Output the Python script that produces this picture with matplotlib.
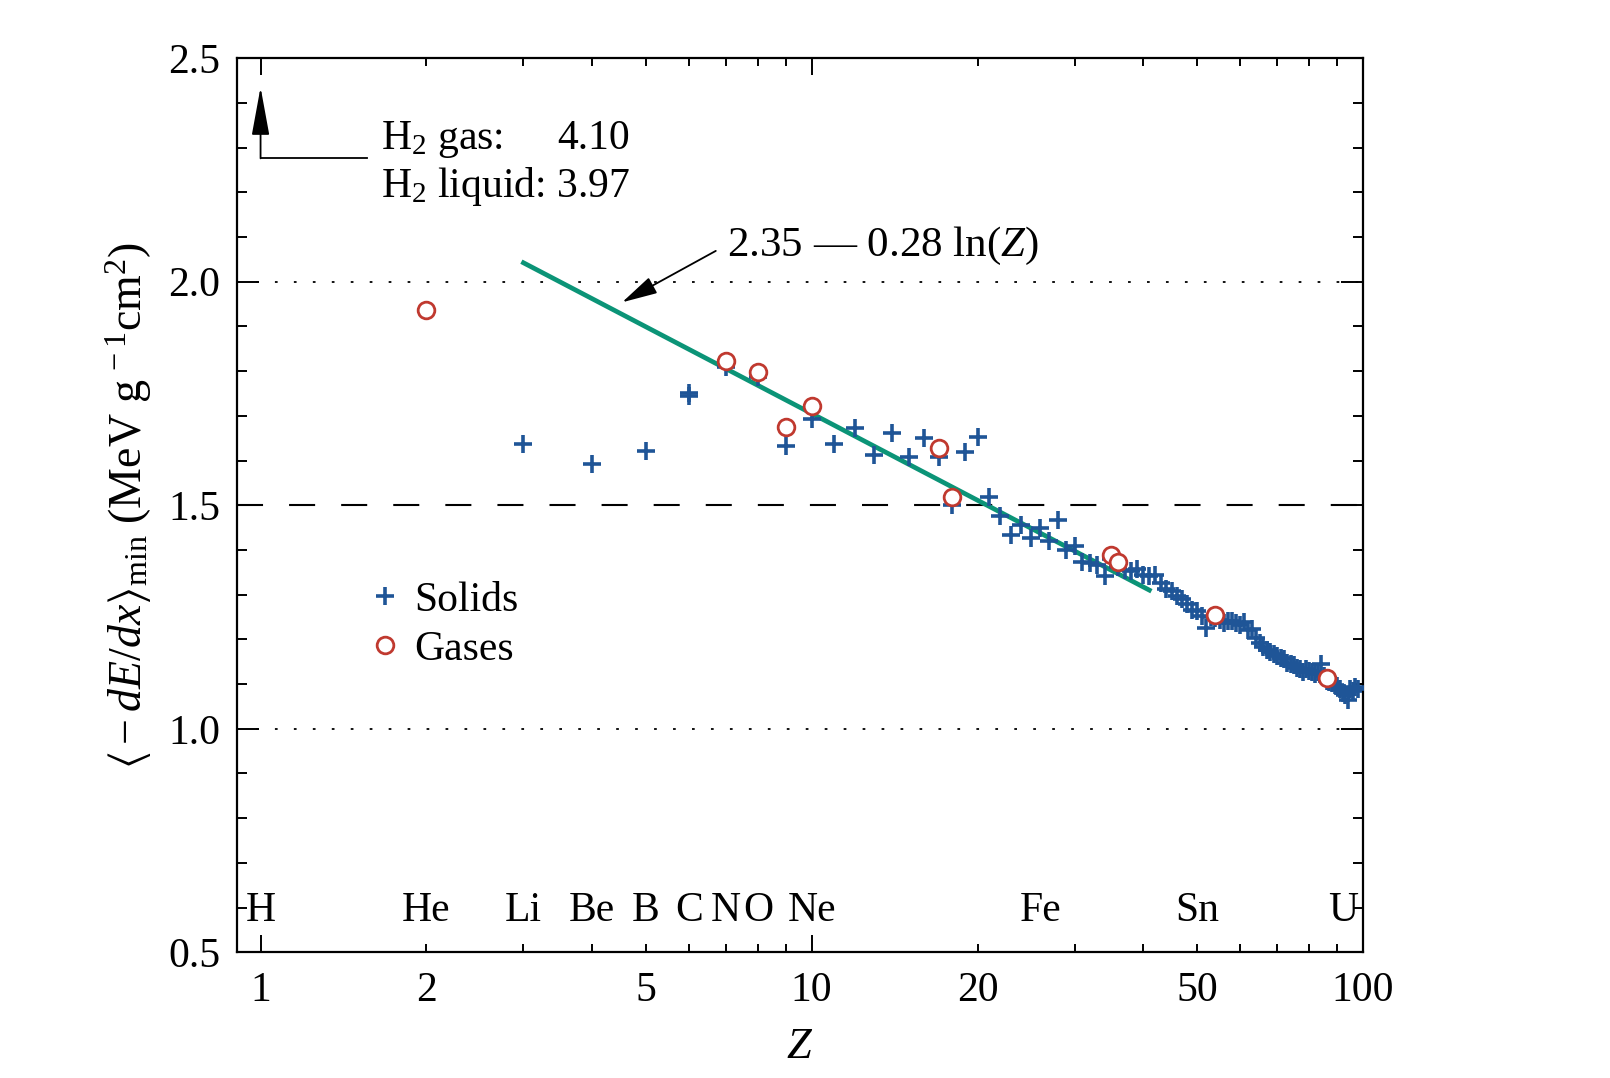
import numpy as np
import matplotlib
matplotlib.use("Agg")
import matplotlib.pyplot as plt
from matplotlib.patches import FancyArrowPatch

plt.rcParams['font.family'] = ['Liberation Serif', 'DejaVu Serif']
plt.rcParams['mathtext.fontset'] = 'custom'
plt.rcParams['mathtext.rm'] = 'Liberation Serif'
plt.rcParams['mathtext.it'] = 'Liberation Serif:italic'
plt.rcParams['mathtext.fallback'] = 'stix'

# ---------------- data ----------------
solid_Z = [3, 4, 5, 6, 6, 7, 8, 9, 10, 11, 12, 13, 14, 15, 16, 17, 18, 19, 20,
           21, 22, 23, 24, 25, 26, 27, 28, 29, 30, 31, 32, 33, 34, 35, 36, 37, 38,
           39, 40, 41, 42, 43, 44, 45, 46, 47, 48, 49, 50, 51, 52, 53, 54, 55, 56,
           57, 58, 59, 60, 61, 62, 63, 64, 65, 66, 67, 68, 69, 70, 71, 72, 73, 74,
           75, 76, 77, 78, 79, 80, 81, 82, 83, 84, 85, 86, 87, 88, 89, 90, 91, 92,
           93, 94, 95, 96, 97, 98]
solid_dEdx = [1.636, 1.592, 1.621, 1.745, 1.752, 1.809, 1.786, 1.632, 1.694, 1.638,
              1.672, 1.612, 1.662, 1.609, 1.651, 1.607, 1.501, 1.620, 1.653,
              1.519, 1.476, 1.434, 1.456, 1.426, 1.449, 1.419, 1.467, 1.400, 1.409,
              1.374, 1.370, 1.367, 1.341, 1.380, 1.362, 1.356, 1.353, 1.358, 1.345,
              1.342, 1.343, 1.325, 1.313, 1.309, 1.298, 1.290, 1.280, 1.266, 1.263,
              1.253, 1.225, 1.250, 1.247, 1.243, 1.237, 1.241, 1.240, 1.236, 1.232,
              1.238, 1.222, 1.224, 1.203, 1.192, 1.183, 1.176, 1.172, 1.168, 1.163,
              1.158, 1.155, 1.148, 1.145, 1.142, 1.137, 1.133, 1.128, 1.134, 1.130,
              1.127, 1.122, 1.128, 1.145, 1.118, 1.108, 1.105, 1.102, 1.099, 1.096,
              1.088, 1.081, 1.075, 1.065, 1.090, 1.085, 1.093, 1.089]
gas_Z = [2, 7, 8, 9, 10, 17, 18, 35, 36, 54, 86]
gas_dEdx = [1.937, 1.822, 1.798, 1.675, 1.722, 1.629, 1.518, 1.389, 1.374, 1.255, 1.114]

elem_names = ['H', 'He', 'Li', 'Be', 'B', 'C', 'N', 'O', 'Ne', 'Fe', 'Sn', 'U']
elem_Z = [1, 2, 3, 4, 5, 6, 7, 8, 10, 26, 50, 92]

fit_a, fit_b = 2.35, 0.28
fit_Zrange = [3.0, 41.0]

xmajor = [1, 10, 100]
xminor = [2, 3, 4, 5, 6, 7, 8, 9, 20, 30, 40, 50, 60, 70, 80, 90]
xminor_labelled = [2, 5, 20, 50]

# ---------------- figure ----------------
fig = plt.figure(figsize=(16.10, 10.78), dpi=100)
ax = fig.add_axes([0.147, 0.1166, 0.6994, 0.8294])

blue = '#1f5597'
red = '#c0392f'
green = '#0b9477'
FS = 30

zf = np.geomspace(fit_Zrange[0], fit_Zrange[1], 200)
ax.plot(zf, fit_a - fit_b * np.log(zf), color=green, lw=3.4, zorder=2)

ax.plot(solid_Z, solid_dEdx, linestyle='none', marker='+', ms=13, mew=2.6,
        color=blue, zorder=3, label='Solids')
ax.plot(gas_Z, gas_dEdx, linestyle='none', marker='o', ms=12, mew=2.0,
        mfc='white', mec=red, zorder=4, label='Gases')

ax.axhline(2.0, color='black', lw=1.3, ls=(0, (1.5, 9)), zorder=1)
ax.axhline(1.0, color='black', lw=1.3, ls=(0, (1.5, 9)), zorder=1)
ax.axhline(1.5, color='black', lw=1.5, ls=(0, (12.5, 12.5)), zorder=1)

ax.set_xscale('log')
ax.set_xlim(0.905, 100)
ax.set_ylim(0.5, 2.5)

ax.set_xticks(xmajor)
ax.set_xticklabels([str(v) for v in xmajor])
ax.set_xticks(xminor, minor=True)
ax.set_xticklabels([str(v) if v in xminor_labelled else '' for v in xminor], minor=True)
ax.set_yticks([0.5, 1.0, 1.5, 2.0, 2.5])
ax.set_yticklabels(['0.5', '1.0', '1.5', '2.0', '2.5'])
ax.set_yticks(np.arange(0.5, 2.51, 0.1), minor=True)

ax.tick_params(axis='both', which='both', direction='in', top=True, right=True,
               labelsize=FS, width=1.4, colors='black')
ax.tick_params(axis='x', which='major', length=12, pad=14)
ax.tick_params(axis='x', which='minor', length=6, pad=14)
ax.tick_params(axis='y', which='major', length=16, pad=12)
ax.tick_params(axis='y', which='minor', length=7.5)
for s in ax.spines.values():
    s.set_linewidth(1.6)

ax.set_xlabel('$Z$', fontsize=FS + 2, labelpad=12)
ax.set_ylabel(r'$\langle -dE/dx\rangle_{\mathrm{min}}$ (MeV g$^{\,-1}$cm$^{2}$)',
              fontsize=FS + 3, labelpad=10)

for name, z in zip(elem_names, elem_Z):
    ax.text(z, 0.594, name, fontsize=FS, ha='center', va='center')

# H2 annotation
ax.plot([1.557, 1.0], [2.276, 2.276], color='black', lw=1.3)
ax.add_patch(FancyArrowPatch((1.0, 2.276), (1.0, 2.435),
                             arrowstyle='-|>,head_length=3.0,head_width=0.55',
                             mutation_scale=10, color='black', lw=1.3,
                             shrinkA=0, shrinkB=0))
ax.text(1.653, 2.297, 'H$_2$ gas:', fontsize=FS, ha='left', va='baseline')
ax.text(3.45, 2.297, '4.10', fontsize=FS, ha='left', va='baseline')
ax.text(1.653, 2.19, 'H$_2$ liquid: 3.97', fontsize=FS, ha='left', va='baseline')

# fit annotation
ax.add_patch(FancyArrowPatch((6.70, 2.069), (4.53, 1.954),
                             arrowstyle='-|>,head_length=2.2,head_width=0.55',
                             mutation_scale=10, color='black', lw=1.3,
                             shrinkA=0, shrinkB=0))
ax.text(7.02, 2.079, '2.35 \u2014 0.28 ln($Z$)', fontsize=FS + 1, ha='left', va='center')

ax.legend(loc='center left', bbox_to_anchor=(0.117, 0.366), frameon=False,
          fontsize=FS, handlelength=0.8, handletextpad=0.3, labelspacing=0.25,
          borderpad=0, borderaxespad=0)

fig.savefig('out.png', dpi=100)
